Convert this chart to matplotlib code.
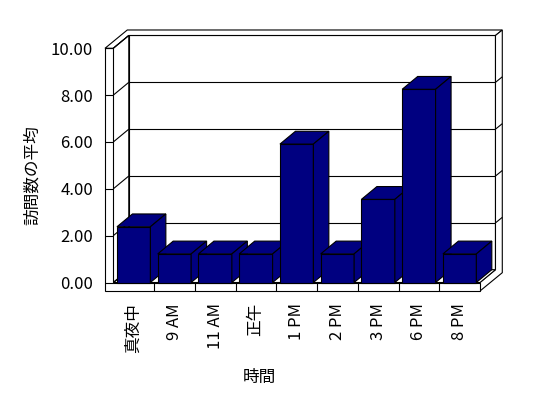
import matplotlib
matplotlib.use('Agg')
import matplotlib.pyplot as plt
from matplotlib.patches import Polygon

plt.rcParams['font.family'] = ['Noto Sans CJK JP', 'DejaVu Sans']

# data
categories = ['真夜中', '9 AM', '11 AM', '正午', '1 PM', '2 PM', '3 PM', '6 PM', '8 PM']
avg_visits = [2.38, 1.22, 1.22, 1.22, 5.91, 1.22, 3.55, 8.25, 1.22]
y_ticks = [0, 2, 4, 6, 8, 10]
y_label = '訪問数の平均'
x_label = '時間'

bar_color = '#000080'
lw = 0.8

# 3d look (in data units: categories along x, values along y)
DX, DY = 0.38, 0.547      # depth of the plot box
TX, TY = 0.167, 0.235     # back wall thickness
T_LEFT = 0.204            # left wall thickness
F = 0.363                 # floor thickness
BW = 0.82                 # bar width

n = len(categories)
x0, x1 = -0.5, n - 0.5
ymax = y_ticks[-1]


def P(x, y, d=0.0):
    # d is depth as fraction of the box depth (can be >1 for the back wall)
    return (x + d * DX, y + d * DY)


fig = plt.figure(figsize=(5.48, 3.98), dpi=100)
ax = fig.add_axes([113.3 / 548, 115.5 / 398, 366.7 / 548, 234.2 / 398])
ax.set_xlim(x0, x1)
ax.set_ylim(0, ymax)
for s in ax.spines.values():
    s.set_visible(False)


def poly(pts, fc='white', z=1):
    ax.add_patch(Polygon(pts, closed=True, facecolor=fc, edgecolor='black',
                         linewidth=lw, clip_on=False, zorder=z, joinstyle='miter'))


def line(p, q, z=2):
    ax.plot([p[0], q[0]], [p[1], q[1]], color='black', lw=lw, clip_on=False,
            zorder=z, solid_capstyle='butt')


dT = 1 + TX / DX  # depth fraction of the outer back plane
# back wall front face
poly([P(x0, 0, 1), P(x1, 0, 1), P(x1, ymax, 1), P(x0, ymax, 1)])
# top faces of left + back wall
tx = -T_LEFT
poly([(x0 + tx, ymax), (x0, ymax), P(x0, ymax, 1), P(x1, ymax, 1),
      (x1 + DX + TX, ymax + DY + TY), (x0 + tx + DX + TX, ymax + DY + TY)])
# right end faces of floor + back wall
poly([(x1, 0), (x1, -F), (x1 + DX + TX, -F + DY + TY), (x1 + DX + TX, ymax + DY + TY),
      P(x1, ymax, 1), P(x1, 0, 1)])
# floor top
poly([P(x0, 0), P(x1, 0), P(x1, 0, 1), P(x0, 0, 1)])
# left wall inner face
poly([P(x0, 0), P(x0, 0, 1), P(x0, ymax, 1), P(x0, ymax)])
# left wall front + floor front
poly([(x0 + tx, -F), (x1, -F), (x1, 0), (x0, 0), (x0, ymax), (x0 + tx, ymax)])

# gridlines and ticks
for v in y_ticks:
    line((x0 + tx, v), (x0, v))
    line(P(x0, v), P(x0, v, 1))
    if 0 < v < ymax:
        line(P(x0, v, 1), P(x1, v, 1))
        line(P(x1, v, 1), (x1 + DX + TX, v + DY + TY))

# category dividers on the floor front
for i in range(n - 1):
    line((i + 0.5, -F), (i + 0.5, 0))

# bars, left to right so later fronts cover earlier sides
for i, v in enumerate(avg_visits):
    l, r = i - BW / 2, i + BW / 2
    z = 5 + i
    poly([P(l, 0), P(r, 0), P(r, v), P(l, v)], bar_color, z)
    poly([P(l, v), P(r, v), P(r, v, 1), P(l, v, 1)], bar_color, z)
    poly([P(r, 0), P(r, 0, 1), P(r, v, 1), P(r, v)], bar_color, z)

ax.set_yticks(y_ticks)
ax.set_yticklabels([f'{v:.2f}' for v in y_ticks])
ax.set_xticks(range(n))
ax.set_xticklabels(categories, rotation=90)
ax.tick_params(axis='y', length=0, pad=14.6, labelsize=12)
ax.tick_params(axis='x', length=0, pad=14.8, labelsize=12)

fig.text(32 / 548, 1 - 175 / 398, y_label, rotation=90, ha='center', va='center', fontsize=12)
fig.text(259 / 548, 1 - 377 / 398, x_label, ha='center', va='center', fontsize=12)

fig.savefig('out.png', dpi=100)
